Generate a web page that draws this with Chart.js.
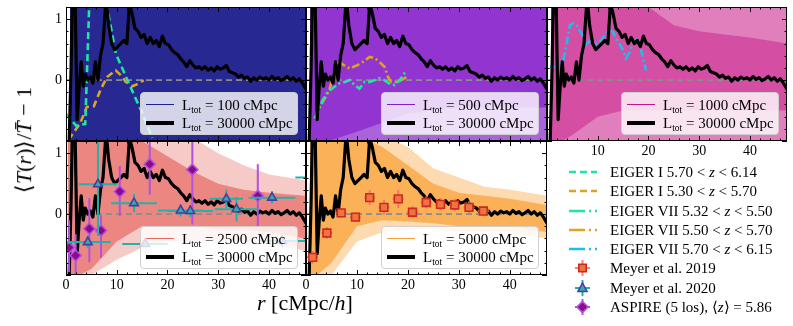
<!DOCTYPE html>
<html>
<head>
<meta charset="utf-8">
<script src="https://cdn.jsdelivr.net/npm/chart.js@4.4.0/dist/chart.umd.min.js"></script>
<style>
body{margin:0;background:#fff;font-family:"Liberation Serif",serif;}
#wrap{position:relative;width:793px;height:326px;overflow:hidden;}
#wrap canvas{position:absolute;left:0;top:0;}
.leg{position:absolute;width:158px;height:43px;background:rgba(255,255,255,0.8);border:1px solid #cfcfcf;border-radius:4px;box-sizing:border-box;font-size:15px;}
.leg .smp{position:absolute;left:5px;width:28px;height:0;}
.leg .txt{position:absolute;left:41px;line-height:18px;white-space:nowrap;}
sub{font-size:9.5px;vertical-align:-3px;line-height:0;}
.rl{position:absolute;left:610px;font-size:15px;line-height:18px;white-space:nowrap;}
.rs{position:absolute;left:566px;}
.title{position:absolute;font-size:22px;white-space:nowrap;}
</style>
</head>
<body>
<div id="wrap"></div>
<script>
// axis ranges and tick labels
const R_MAX = 47.3, T_MIN = -1.0, T_MAX = 1.2;
const xTickLabels = [0, 10, 20, 30, 40];
const yTickLabels = [0, 1];

// L_tot = 30000 cMpc mean profile (same in every panel)
const r30000 = [0, 0.6, 1.0, 1.3, 1.8, 2.2, 2.6, 3.0, 3.4, 3.8, 4.3, 4.8, 5.3, 5.8, 6.3, 6.8, 7.3, 7.9, 8.4, 9.0,
  9.6, 10.2, 10.8, 11.4, 12.0, 12.5, 13.0, 13.6, 14.2, 14.8, 15.4, 16.0, 16.6, 17.2, 17.8, 18.4, 19.0, 19.6, 20.2, 20.8,
  21.4, 22.0, 22.6, 23.2, 23.8, 24.4, 25.0, 25.6, 26.2, 26.8, 27.4, 28.0, 28.6, 29.2, 29.8, 30.4, 31.0, 31.6, 32.2, 32.8,
  33.4, 34.0, 34.6, 35.2, 35.8, 36.4, 37.0, 37.6, 38.2, 38.8, 39.4, 40.0, 40.6, 41.2, 41.8, 42.4, 43.0, 43.6, 44.2, 44.8,
  45.4, 46.0, 46.6, 47.3];
const T30000 = [-1.2, -1.1, 0.2, 1.6, 1.3, -0.65, -0.1, 0.3, -0.1, 0.1, 0.0, 0.05, -0.05, 0.3, 0.0, 0.4, 0.6, 1.35, 0.9, 0.6,
  0.5, 0.55, 0.6, 0.65, 0.6, 1.25, 1.1, 0.85, 0.8, 0.7, 0.75, 0.6, 0.7, 0.6, 0.65, 0.55, 0.72, 0.6, 0.58, 0.5,
  0.45, 0.42, 0.35, 0.3, 0.22, 0.32, 0.25, 0.2, 0.22, 0.18, 0.22, 0.16, 0.2, 0.15, 0.22, 0.18, 0.2, 0.24, 0.14, 0.12,
  0.1, 0.05, 0.08, 0.03, 0.05, -0.02, 0.04, 0.0, 0.05, 0.02, 0.04, 0.0, 0.06, 0.01, 0.04, -0.01, 0.02, 0.06, 0.0, 0.04,
  -0.02, 0.02, -0.05, -0.15];

// envelopes of the individual realisations (outer = sparse, inner = dense)
const band100R = [0.8, 47.3];
const band100Hi = [1.3, 1.3];
const band100Lo = [-1.1, -1.1];

const band500R = [0.8, 10, 20, 30, 47.3];
const band500Hi = [1.3, 1.3, 1.3, 1.3, 1.3];
const band500Lo = [-1.1, -1.1, -1.1, -1.1, -1.1];
const band500InHi = [1.3, 1.3, 1.3, 1.3, 1.3];
const band500InLo = [-1.1, -0.85, -0.55, -0.45, -0.45];

const band1000R = [0.8, 5, 10, 15, 20, 25, 30, 35, 40, 47.3];
const band1000Hi = [1.3, 1.3, 1.3, 1.3, 1.3, 1.3, 1.3, 1.3, 1.3, 1.3];
const band1000Lo = [-1.1, -1.1, -1.1, -1.1, -1.1, -1.1, -1.1, -1.1, -1.1, -1.1];
const band1000InHi = [1.3, 1.3, 1.3, 1.3, 1.2, 0.9, 0.8, 0.75, 0.7, 0.6];
const band1000InLo = [-1.1, -0.9, -0.6, -0.5, -0.5, -0.5, -0.5, -0.5, -0.5, -0.5];

const band2500R = [0.3, 5, 10, 15, 20, 25, 30, 35, 40, 47.3];
const band2500Hi = [1.3, 1.3, 1.3, 1.3, 1.3, 1.25, 1.0, 0.8, 0.65, 0.55];
const band2500Lo = [-1.1, -1.0, -0.75, -0.55, -0.45, -0.45, -0.45, -0.45, -0.5, -0.6];
const band2500InHi = [1.3, 1.3, 1.3, 1.2, 0.95, 0.7, 0.5, 0.4, 0.35, 0.3];
const band2500InLo = [-1.1, -0.9, -0.45, -0.2, -0.2, -0.2, -0.25, -0.25, -0.3, -0.4];

const band5000R = [0.8, 5, 10, 15, 20, 25, 30, 35, 40, 47.3];
const band5000Hi = [1.3, 1.3, 1.3, 1.3, 1.1, 0.75, 0.6, 0.45, 0.4, 0.3];
const band5000Lo = [-1.1, -1.0, -0.45, -0.3, -0.25, -0.25, -0.3, -0.3, -0.3, -0.4];
const band5000InHi = [1.3, 1.3, 1.3, 1.1, 0.8, 0.5, 0.35, 0.3, 0.25, 0.15];
const band5000InLo = [-1.1, -0.8, -0.2, -0.1, -0.12, -0.15, -0.2, -0.2, -0.2, -0.3];

// EIGER measurements
const eigerI_hiR = [0, 2, 3.8, 5, 7, 8.1, 9.8, 12.1, 14.8, 17];
const eigerI_hiT = [-0.55, -0.75, -0.72, 2.3, 2.0, 1.2, 0.44, 0.0, -0.5, -0.95];
const eigerI_loR = [0.5, 2.8, 4.1, 5.5, 6.8, 8.1, 9.8, 10.8, 11.8, 13.1, 14.5, 15.3];
const eigerI_loT = [-0.98, -0.71, -0.44, -0.43, -0.16, 0.05, 0.16, 0.08, -0.03, -0.10, -0.05, 0.0];
const eigerVII_loR = [1.7, 2.7, 3.3, 4.3, 5.6, 6.6, 7.6, 8.6, 9.5, 10.5, 11.5, 12.5, 13.5, 14.4, 15.4, 16.4, 17.4, 18.4, 19.3, 19.8];
const eigerVII_loT = [-0.63, -0.44, -0.33, -0.19, -0.11, -0.05, -0.03, 0.0, -0.08, -0.14, -0.03, -0.03, 0.0, 0.03, 0.0, -0.06, -0.08, 0.0, 0.11, 0.16];
const eigerVII_midR = [2.0, 2.7, 3.7, 4.6, 5.6, 6.3, 7.3, 8.6, 10.2, 11.2, 12.5, 13.5, 14.4, 15.4, 16.1, 16.7, 17.7, 18.7, 19.7];
const eigerVII_midT = [-0.63, -0.44, -0.3, -0.16, 0.16, 0.33, 0.25, 0.19, 0.25, 0.3, 0.38, 0.36, 0.3, 0.22, 0.05, -0.03, -0.03, 0.0, 0.05];
const eigerVII_hiR = [0.6, 1.9, 2.5, 3.2, 3.9, 4.5, 5.2, 5.8, 6.8, 7.8, 8.8, 9.7, 10.4, 11.4, 12.4, 13.0, 14.0, 15.0, 15.6, 16.3, 16.9, 17.6, 18.2, 18.9, 19.5];
const eigerVII_hiT = [0.22, 0.22, 0.25, 0.33, 0.6, 0.9, 0.93, 0.9, 0.77, 0.6, 0.66, 0.6, 0.63, 0.74, 0.82, 0.79, 0.63, 0.49, 0.36, 0.46, 0.6, 0.66, 0.6, 0.38, 0.16];

// Meyer et al. 2019
const m19R = [1.3, 4.1, 6.9, 9.7, 12.5, 15.3, 18.1, 20.9, 23.6, 26.4, 29.2, 32.0, 34.8];
const m19T = [-0.71, -0.31, 0.02, -0.05, 0.27, 0.11, 0.25, 0.03, 0.19, 0.16, 0.15, 0.11, 0.05];
const m19Rerr = [1.1, 1.1, 1.1, 1.1, 1.1, 1.1, 1.1, 1.1, 1.1, 1.1, 1.1, 1.1, 1.1];
const m19Terr = [0.1, 0.1, 0.08, 0.08, 0.12, 0.12, 0.15, 0.1, 0.1, 0.1, 0.1, 0.1, 0.08];

// Meyer et al. 2020
const m20R = [4.3, 6.3, 13.4, 15.6, 22.6, 24.5, 31.6, 33.6, 40.6, 42.6, 50.0];
const m20T = [-0.46, 0.49, 0.18, -0.49, 0.06, 0.05, 0.25, 0.08, 0.27, -0.44, 0.6];
const m20Rerr = [4.5, 3.8, 4.5, 4.5, 4.5, 4.5, 3.3, 4.3, 4.6, 4.5, 4.8];
const m20Terr = [0.1, 0.85, 0.15, 0.05, 0.1, 0.1, 0.15, 0.2, 0.1, 0.1, 0.1];

// ASPIRE (5 los)
const aspR = [0.6, 1.9, 4.6, 6.9, 10.6, 16.5, 24.9, 37.8];
const aspT = [-0.55, -0.68, -0.24, -0.27, 0.37, 0.82, 0.73, 0.3];
const aspLo = [0.4, 0.3, 0.55, 0.45, 0.4, 0.5, 0.9, 0.5];
const aspHi = [0.45, 0.35, 0.5, 0.25, 0.42, 0.45, 0.5, 0.52];

const W = 793, H = 326;
const GREEN = '#1fe6a0', GOLD = '#daa520', SKY = '#1cbef0';

function pts(xs, ys) { return xs.map((v, i) => ({x: v, y: ys[i]})); }

function band(r, hi, lo, color) {
  return [
    {data: pts(r, hi), fill: '+1', backgroundColor: color, borderWidth: 0, pointRadius: 0, order: 10},
    {data: pts(r, lo), fill: false, borderWidth: 0, pointRadius: 0, order: 10}
  ];
}
function curve(r, t, color, dash) {
  return {data: pts(r, t), borderColor: color, borderWidth: 2.6, borderDash: dash, pointRadius: 0, fill: false, order: 2};
}

const framePlugin = {
  id: 'frame',
  afterDraw(chart, args, opts) {
    const {ctx, chartArea: a, scales: {x, y}} = chart;
    ctx.save();
    ctx.strokeStyle = '#000';
    ctx.lineWidth = 1;
    ctx.beginPath();
    for (let i = 0; 2 * i <= R_MAX; i++) {
      const v = 2 * i, px = Math.round(x.getPixelForValue(v)) + 0.5, len = v % 10 === 0 ? 5 : 2.5;
      ctx.moveTo(px, a.bottom); ctx.lineTo(px, a.bottom - len);
      ctx.moveTo(px, a.top); ctx.lineTo(px, a.top + len);
    }
    for (let i = -5; i <= 6; i++) {
      const py = Math.round(y.getPixelForValue(i / 5)) + 0.5, len = i % 5 === 0 ? 5 : 2.5;
      ctx.moveTo(a.left, py); ctx.lineTo(a.left + len, py);
      ctx.moveTo(a.right, py); ctx.lineTo(a.right - len, py);
    }
    ctx.stroke();
    ctx.strokeRect(a.left + 0.5, a.top + 0.5, a.right - a.left - 1, a.bottom - a.top - 1);
    ctx.fillStyle = '#000';
    ctx.font = '14px "Liberation Serif", serif';
    ctx.textAlign = 'center';
    ctx.textBaseline = 'top';
    (opts.xLabels || []).forEach(v => ctx.fillText(String(v), x.getPixelForValue(v), a.bottom + 3));
    ctx.textAlign = 'right';
    ctx.textBaseline = 'middle';
    (opts.yLabels || []).forEach(v => ctx.fillText(String(v), a.left - 4, y.getPixelForValue(v)));
    ctx.restore();
  }
};

const errorBarPlugin = {
  id: 'errbars',
  beforeDatasetDraw(chart, args) {
    const ds = chart.data.datasets[args.index];
    if (!ds.err) return;
    const {ctx, chartArea: a, scales: {x, y}} = chart;
    ctx.save();
    ctx.beginPath();
    ctx.rect(a.left, a.top, a.right - a.left, a.bottom - a.top);
    ctx.clip();
    ctx.strokeStyle = ds.err.color;
    ctx.lineWidth = 2;
    ds.data.forEach((p, i) => {
      const px = x.getPixelForValue(p.x), py = y.getPixelForValue(p.y);
      ctx.beginPath();
      ctx.moveTo(x.getPixelForValue(p.x - ds.err.x[i]), py);
      ctx.lineTo(x.getPixelForValue(p.x + ds.err.x[i]), py);
      ctx.moveTo(px, y.getPixelForValue(p.y - ds.err.lo[i]));
      ctx.lineTo(px, y.getPixelForValue(p.y + ds.err.hi[i]));
      ctx.stroke();
    });
    ctx.restore();
  }
};

const zeroR = [0, R_MAX], zeroT = [0, 0];
function common() {
  return [
    {data: pts(zeroR, zeroT), borderColor: '#8c8c8c', borderWidth: 1.6, borderDash: [6, 4], pointRadius: 0, fill: false, order: 3},
    {data: pts(r30000, T30000), borderColor: '#000', borderWidth: 3.2, pointRadius: 0, fill: false, order: 1, borderJoinStyle: 'round'}
  ];
}

const m19Set = {data: pts(m19R, m19T), showLine: false, pointStyle: 'rect', pointRadius: 5.5,
  backgroundColor: '#ee7440', borderColor: '#cc2a1e', borderWidth: 1.6, order: 0,
  err: {x: m19Rerr, lo: m19Terr, hi: m19Terr, color: 'rgba(240,110,100,0.85)'}};
const m20Set = {data: pts(m20R, m20T), showLine: false, pointStyle: 'triangle', pointRadius: 5,
  backgroundColor: '#3aa6b0', borderColor: '#4a3c9c', borderWidth: 1.6, order: 0,
  err: {x: m20Rerr, lo: m20Terr, hi: m20Terr, color: '#22b2aa'}};
const aspSet = {data: pts(aspR, aspT), showLine: false, pointStyle: 'rectRot', pointRadius: 5.5,
  backgroundColor: '#8b0a8b', borderColor: '#b44fe0', borderWidth: 1.6, order: 0,
  err: {x: aspR.map(() => 0), lo: aspLo, hi: aspHi, color: '#b44fe0'}};

const panels = [
  {box: [66, 7, 306, 141], L: '100', line: '#1f1f9a', xl: [], yl: yTickLabels,
   sets: [...band(band100R, band100Hi, band100Lo, 'rgba(8,8,130,0.87)'),
          curve(eigerI_hiR, eigerI_hiT, GREEN, [7, 4]), curve(eigerI_loR, eigerI_loT, GOLD, [7, 4])]},
  {box: [306, 7, 547, 141], L: '500', line: '#7f1fd0', xl: [], yl: [],
   sets: [...band(band500R, band500Hi, band500Lo, 'rgba(125,15,200,0.65)'),
          ...band(band500R, band500InHi, band500InLo, 'rgba(125,15,200,0.55)'),
          curve(eigerVII_loR, eigerVII_loT, GREEN, [8, 3, 2, 3]), curve(eigerVII_midR, eigerVII_midT, GOLD, [8, 3, 2, 3])]},
  {box: [547, 7, 787, 141], L: '1000', line: '#c71585', xl: xTickLabels.filter(v => v > 0), yl: [],
   sets: [...band(band1000R, band1000Hi, band1000Lo, 'rgba(199,21,133,0.55)'),
          ...band(band1000R, band1000InHi, band1000InLo, 'rgba(199,21,133,0.45)'),
          curve(eigerVII_hiR, eigerVII_hiT, SKY, [8, 3, 2, 3])]},
  {box: [66, 141, 306, 275], L: '2500', line: '#e8675c', xl: xTickLabels, yl: yTickLabels,
   sets: [...band(band2500R, band2500Hi, band2500Lo, 'rgba(225,80,70,0.3)'),
          ...band(band2500R, band2500InHi, band2500InLo, 'rgba(225,80,70,0.55)'),
          m20Set, aspSet]},
  {box: [306, 141, 547, 275], L: '5000', line: '#f5a030', xl: xTickLabels, yl: [],
   sets: [...band(band5000R, band5000Hi, band5000Lo, 'rgba(250,150,30,0.35)'),
          ...band(band5000R, band5000InHi, band5000InLo, 'rgba(250,150,30,0.6)'),
          m19Set]}
];

const wrap = document.getElementById('wrap');

panels.forEach(p => {
  const cv = document.createElement('canvas');
  cv.width = W; cv.height = H;
  wrap.appendChild(cv);
  new Chart(cv, {
    type: 'line',
    data: {datasets: [...p.sets, ...common()]},
    options: {
      responsive: false, animation: false, events: [],
      layout: {padding: {left: p.box[0], top: p.box[1], right: W - p.box[2], bottom: H - p.box[3]}},
      scales: {
        x: {type: 'linear', display: false, min: 0, max: R_MAX},
        y: {type: 'linear', display: false, min: T_MIN, max: T_MAX}
      },
      elements: {line: {tension: 0}},
      plugins: {legend: {display: false}, tooltip: {enabled: false}, frame: {xLabels: p.xl, yLabels: p.yl}}
    },
    plugins: [framePlugin, errorBarPlugin]
  });

  // legend box inside the panel
  const d = document.createElement('div');
  d.className = 'leg';
  d.style.left = (p.box[2] - 8 - 158) + 'px';
  d.style.top = (p.box[3] - 6 - 43) + 'px';
  d.innerHTML =
    '<div class="smp" style="top:11px;border-top:1.5px solid ' + p.line + '"></div>' +
    '<div class="txt" style="top:3px">L<sub>tot</sub> = ' + p.L + ' cMpc</div>' +
    '<div class="smp" style="top:28px;border-top:4px solid #000"></div>' +
    '<div class="txt" style="top:21px">L<sub>tot</sub> = 30000 cMpc</div>';
  wrap.appendChild(d);
});

// legend for the observations
function crossSvg(color, marker) {
  return '<svg width="33" height="18"><line x1="9" y1="9" x2="24" y2="9" stroke="' + color + '" stroke-width="2"/>' +
    '<line x1="16.5" y1="1" x2="16.5" y2="17" stroke="' + color + '" stroke-width="2"/>' + marker + '</svg>';
}
const obsLegend = [
  {label: 'EIGER I 5.70 &lt; <i>z</i> &lt; 6.14', svg: '<svg width="33" height="18"><line x1="3" y1="9" x2="31" y2="9" stroke="' + GREEN + '" stroke-width="2.6" stroke-dasharray="7 4"/></svg>'},
  {label: 'EIGER I 5.30 &lt; <i>z</i> &lt; 5.70', svg: '<svg width="33" height="18"><line x1="3" y1="9" x2="31" y2="9" stroke="' + GOLD + '" stroke-width="2.6" stroke-dasharray="7 4"/></svg>'},
  {label: 'EIGER VII 5.32 &lt; <i>z</i> &lt; 5.50', svg: '<svg width="33" height="18"><line x1="3" y1="9" x2="31" y2="9" stroke="' + GREEN + '" stroke-width="2.6" stroke-dasharray="16 4 2 4"/></svg>'},
  {label: 'EIGER VII 5.50 &lt; <i>z</i> &lt; 5.70', svg: '<svg width="33" height="18"><line x1="3" y1="9" x2="31" y2="9" stroke="' + GOLD + '" stroke-width="2.6" stroke-dasharray="16 4 2 4"/></svg>'},
  {label: 'EIGER VII 5.70 &lt; <i>z</i> &lt; 6.15', svg: '<svg width="33" height="18"><line x1="3" y1="9" x2="31" y2="9" stroke="' + SKY + '" stroke-width="2.6" stroke-dasharray="16 4 2 4"/></svg>'},
  {label: 'Meyer et al. 2019', svg: crossSvg('rgba(240,110,100,0.85)', '<rect x="12.8" y="5.3" width="7.4" height="7.4" fill="#ee7440" stroke="#cc2a1e" stroke-width="1.6"/>')},
  {label: 'Meyer et al. 2020', svg: crossSvg('#22b2aa', '<polygon points="16.5,4 21,12.5 12,12.5" fill="#3aa6b0" stroke="#4a3c9c" stroke-width="1.6"/>')},
  {label: 'ASPIRE (5 los), ⟨<i>z</i>⟩ = 5.86', svg: crossSvg('#b44fe0', '<polygon points="16.5,3.5 22,9 16.5,14.5 11,9" fill="#8b0a8b" stroke="#b44fe0" stroke-width="1.6"/>')}
];
obsLegend.forEach((row, i) => {
  const yc = 172 + i * 19.25;
  const s = document.createElement('div');
  s.className = 'rs'; s.style.top = (yc - 9) + 'px'; s.innerHTML = row.svg;
  wrap.appendChild(s);
  const t = document.createElement('div');
  t.className = 'rl'; t.style.top = (yc - 9) + 'px'; t.innerHTML = row.label;
  wrap.appendChild(t);
});

// axis titles
const xt = document.createElement('div');
xt.className = 'title';
xt.innerHTML = '<i>r</i> [cMpc/<i>h</i>]';
wrap.appendChild(xt);
xt.style.left = (305 - xt.offsetWidth / 2) + 'px';
xt.style.top = (303 - xt.offsetHeight / 2) + 'px';

const yt = document.createElement('div');
yt.className = 'title';
yt.innerHTML = '⟨<i>T</i>(<i>r</i>)⟩/<i>T̄</i> − 1';
wrap.appendChild(yt);
yt.style.left = (24 - yt.offsetWidth / 2) + 'px';
yt.style.top = (140 - yt.offsetHeight / 2) + 'px';
yt.style.transform = 'rotate(-90deg)';
</script>
</body>
</html>
